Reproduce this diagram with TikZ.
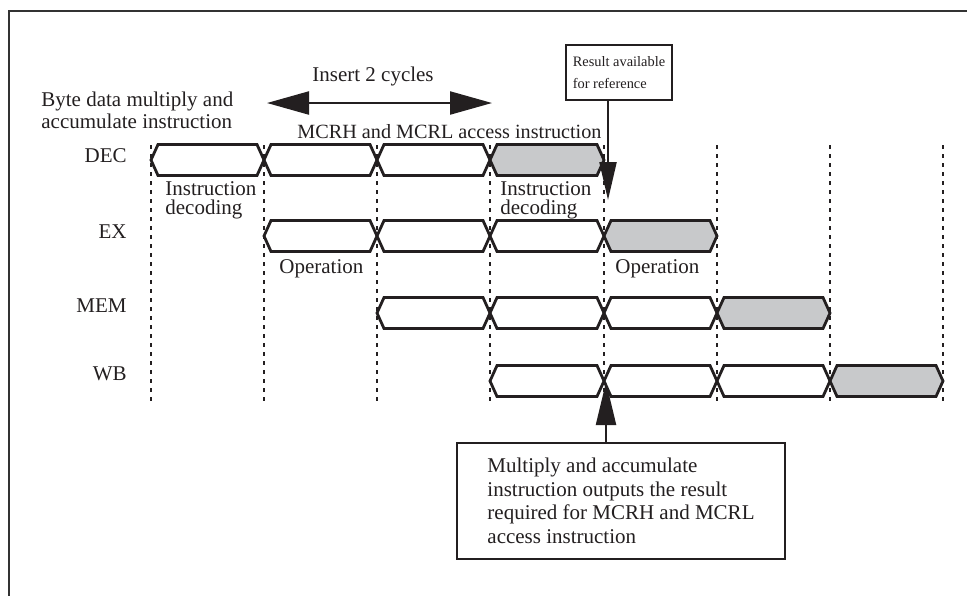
\documentclass[tikz,border=0pt]{standalone}
\usepackage{fontspec}
\setmainfont{Liberation Serif}
\usepackage{tikz}
\usetikzlibrary{arrows.meta}
\definecolor{inkS}{RGB}{35,31,32}
\definecolor{stagegray}{RGB}{200,201,203}
\tikzset{
  stageS/.style ={draw=inkS, line width=1.4pt, fill=white},
  doneS/.style  ={stageS, fill=stagegray},
  clockS/.style ={draw=inkS, line width=1.2pt, dash pattern=on 2pt off 2.5pt},
  frameS/.style ={draw=black!80, line width=0.8pt},
  lbl/.style    ={inner sep=0pt, text=inkS, font=\fontsize{10.5}{9.5}\selectfont, align=left},
  note/.style   ={draw=inkS, line width=1pt, fill=white, text=inkS, align=left},
  twoheadS/.style={draw=inkS, line width=1.1pt,
                   {Triangle[length=21pt,width=11.5pt]}-{Triangle[length=21pt,width=11.5pt]}},
  pointS/.style ={draw=inkS, line width=1.1pt, -{Triangle[#1]}},
}

\begin{document}
\begin{tikzpicture}[x=0.5pt,y=-0.5pt]
  \useasboundingbox (0,0) rectangle (967,596);
  \draw[frameS] (967,11) -- (9,11) -- (9,596);
  % stage names
  \node[lbl, anchor=base east] (dec) at (127,162) {DEC};
  \node[lbl, anchor=base east] (ex)  at (127,238) {EX};
  \node[lbl, anchor=base east] (mem) at (127,312) {MEM};
  \node[lbl, anchor=base east] (wb)  at (127,380) {WB};
  % DEC
  \draw[stageS] (151,160) -- (158,144.5) -- (257,144.5) -- (264,160) -- (257,175.5) -- (158,175.5) -- cycle;
  \draw[stageS] (264,160) -- (271,144.5) -- (370,144.5) -- (377,160) -- (370,175.5) -- (271,175.5) -- cycle;
  \draw[stageS] (377,160) -- (384,144.5) -- (483,144.5) -- (490,160) -- (483,175.5) -- (384,175.5) -- cycle;
  \draw[doneS]  (490,160) -- (497,144.5) -- (597,144.5) -- (604,160) -- (597,175.5) -- (497,175.5) -- cycle;
  % EX
  \draw[stageS] (264,236) -- (271,220.5) -- (370,220.5) -- (377,236) -- (370,251.5) -- (271,251.5) -- cycle;
  \draw[stageS] (377,236) -- (384,220.5) -- (483,220.5) -- (490,236) -- (483,251.5) -- (384,251.5) -- cycle;
  \draw[stageS] (490,236) -- (497,220.5) -- (597,220.5) -- (604,236) -- (597,251.5) -- (497,251.5) -- cycle;
  \draw[doneS]  (604,236) -- (611,220.5) -- (710,220.5) -- (717,236) -- (710,251.5) -- (611,251.5) -- cycle;
  % MEM
  \draw[stageS] (377,313) -- (384,297.5) -- (483,297.5) -- (490,313) -- (483,328.5) -- (384,328.5) -- cycle;
  \draw[stageS] (490,313) -- (497,297.5) -- (597,297.5) -- (604,313) -- (597,328.5) -- (497,328.5) -- cycle;
  \draw[stageS] (604,313) -- (611,297.5) -- (710,297.5) -- (717,313) -- (710,328.5) -- (611,328.5) -- cycle;
  \draw[doneS]  (717,313) -- (724,297.5) -- (823,297.5) -- (830,313) -- (823,328.5) -- (724,328.5) -- cycle;
  % WB
  \draw[stageS] (490,381) -- (497,365.5) -- (597,365.5) -- (604,381) -- (597,396.5) -- (497,396.5) -- cycle;
  \draw[stageS] (604,381) -- (611,365.5) -- (710,365.5) -- (717,381) -- (710,396.5) -- (611,396.5) -- cycle;
  \draw[stageS] (717,381) -- (724,365.5) -- (823,365.5) -- (830,381) -- (823,396.5) -- (724,396.5) -- cycle;
  \draw[doneS]  (830,381) -- (837,365.5) -- (936,365.5) -- (943,381) -- (936,396.5) -- (837,396.5) -- cycle;
  % cycle boundaries
  \draw[clockS] (151,145) -- (151,403);  \draw[clockS] (264,145) -- (264,403);
  \draw[clockS] (377,145) -- (377,403);  \draw[clockS] (490,145) -- (490,403);
  \draw[clockS] (604,145) -- (604,403);  \draw[clockS] (717,145) -- (717,403);
  \draw[clockS] (830,145) -- (830,403);  \draw[clockS] (943,145) -- (943,403);
  % texts
  \node[lbl, anchor=north west] (macc) at (41,92) {Byte data multiply and\\accumulate instruction};
  \node[lbl, anchor=base west, font=\fontsize{10.1}{9.5}\selectfont] (mcr) at (297,138) {MCRH and MCRL access instruction};
  \node[lbl] (ins) at (373,76) {Insert 2 cycles};
  \node[lbl, anchor=north west] (dec1) at (165,181) {Instruction\\decoding};
  \node[lbl, anchor=north west] (dec2) at (500,181) {Instruction\\decoding};
  \node[lbl, anchor=base west] (op1) at (279,273) {Operation};
  \node[lbl, anchor=base west] (op2) at (615,273) {Operation};
  % inserted cycles
  \coordinate (insL) at (267,103);
  \coordinate (insR) at (492,103);
  \draw[twoheadS] (insL) -- (insR);
  % result available
  \node[note, font=\fontsize{7.2}{11}\selectfont, minimum width=51pt, minimum height=27.5pt] (avail) at (619,72.5) {Result available\\for reference};
  \coordinate (refpt) at (608,200);
  \draw[pointS={length=19pt,width=8.5pt}] (avail.south -| refpt) -- (refpt);
  % result output
  \node[note, font=\fontsize{10.5}{11.75}\selectfont, minimum width=164pt, minimum height=58pt, anchor=north west] (outp) at (456,442) {Multiply and accumulate\\instruction outputs the result\\required for MCRH and MCRL\\access instruction};
  \coordinate (wbpt) at (606,382);
  \draw[pointS={length=21.5pt,width=10pt}] (outp.north -| wbpt) -- (wbpt);
\end{tikzpicture}
\end{document}
